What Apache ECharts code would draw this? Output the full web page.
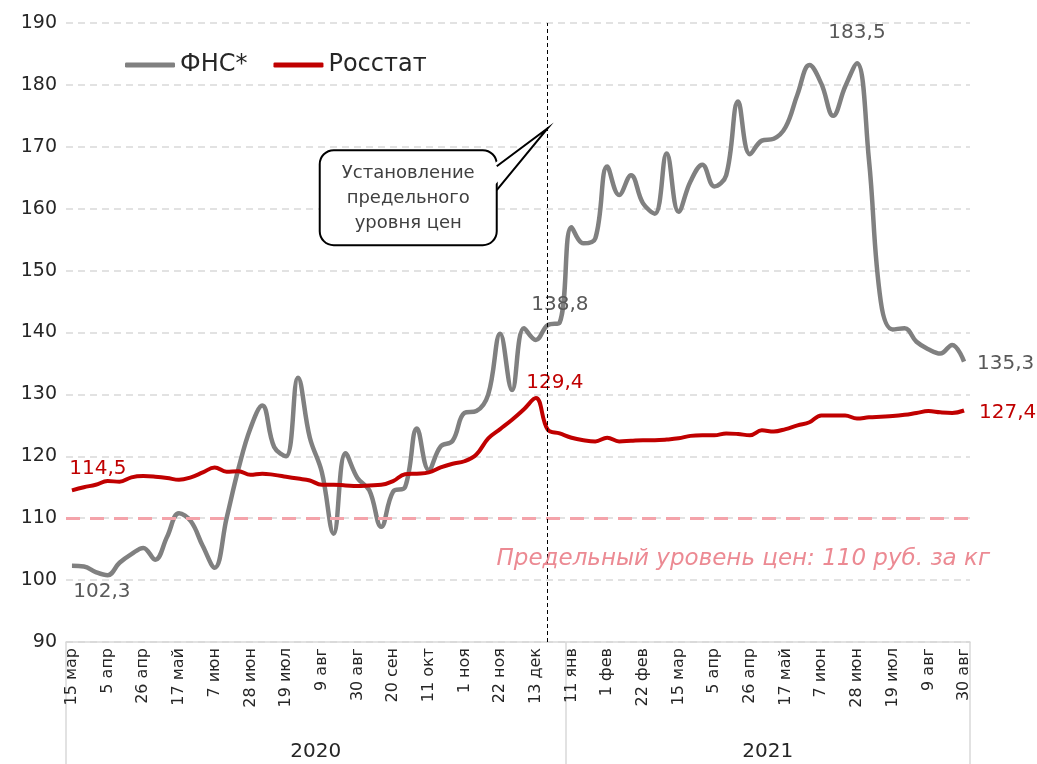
<!DOCTYPE html>
<html lang="ru">
<head>
<meta charset="UTF-8">
<title>Цены на сахар</title>
<script src="https://cdn.jsdelivr.net/npm/echarts@6/dist/echarts.min.js"></script>
<style>
    html, body { margin: 0; padding: 0; background: #fff; }
    #main { width: 1037px; height: 764px; }
</style>
</head>
<body>
<div id="main"></div>
<script>
    // недели (подписи показываются через две)
    var weeks2020 = ['15 мар','22 мар','29 мар','5 апр','12 апр','19 апр','26 апр','3 май','10 май','17 май',
        '24 май','31 май','7 июн','14 июн','21 июн','28 июн','5 июл','12 июл','19 июл','26 июл',
        '2 авг','9 авг','16 авг','23 авг','30 авг','6 сен','13 сен','20 сен','27 сен','4 окт',
        '11 окт','18 окт','25 окт','1 ноя','8 ноя','15 ноя','22 ноя','29 ноя','6 дек','13 дек',
        '20 дек','27 дек'];
    var weeks2021 = ['11 янв','18 янв','25 янв','1 фев','8 фев','15 фев','22 фев','1 мар','8 мар','15 мар',
        '22 мар','29 мар','5 апр','12 апр','19 апр','26 апр','3 май','10 май','17 май','24 май',
        '31 май','7 июн','14 июн','21 июн','28 июн','5 июл','12 июл','19 июл','26 июл','2 авг',
        '9 авг','16 авг','23 авг','30 авг'];
    var years = ['2020', '2021'];

    var fnsPrice = [102.3, 102.2, 101.3, 100.8, 102.8, 104.2, 105.2, 103.3, 107.0, 110.8,
        109.5, 105.5, 102.0, 110.0, 118.0, 124.5, 128.2, 121.5, 120.0, 132.7,
        123.0, 117.5, 107.5, 120.5, 116.5, 114.5, 108.6, 114.3, 115.0, 124.5,
        117.8, 121.6, 122.5, 127.0, 127.3, 130.0, 139.8, 130.7, 140.7, 138.8,
        141.2, 141.6, 157.0, 154.4, 155.2, 166.8, 162.2, 165.4, 160.9, 159.2,
        168.9, 159.5, 164.4, 167.1, 163.6, 165.4, 177.3, 168.8, 171.0, 171.3,
        173.2, 178.5, 183.2, 180.2, 175.0, 179.7, 183.5, 168.0, 145.0, 140.5,
        140.7, 138.5, 137.3, 136.6, 138.0, 135.3];
    var rosstatPrice = [114.5, 115.0, 115.4, 116.0, 115.9, 116.6, 116.8, 116.7, 116.5, 116.2,
        116.6, 117.4, 118.2, 117.5, 117.6, 117.0, 117.2, 117.0, 116.7, 116.4,
        116.1, 115.4, 115.4, 115.3, 115.2, 115.3, 115.4, 116.0, 117.1, 117.2,
        117.4, 118.2, 118.8, 119.2, 120.3, 122.9, 124.4, 125.9, 127.6, 129.4,
        124.3, 123.7, 123.0, 122.6, 122.4, 123.0, 122.4, 122.5, 122.6, 122.6,
        122.7, 122.9, 123.3, 123.4, 123.4, 123.7, 123.6, 123.4, 124.2, 124.0,
        124.4, 125.0, 125.5, 126.6, 126.6, 126.6, 126.1, 126.3, 126.4, 126.5,
        126.7, 127.0, 127.3, 127.1, 127.0, 127.4];

    var capLevel = 110;
    var capWeek = '20 дек';
    var yMin = 90, yMax = 190, yStep = 10;

    var weeks = weeks2020.concat(weeks2021);
    var font = '"DejaVu Sans", sans-serif';

    function fmt(p) { return String(p.value).replace('.', ','); }

    // подписи отдельных точек
    function withLabels(values, marks) {
        return values.map(function (v, i) {
            if (!marks[i]) return v;
            return { value: v, label: Object.assign({ show: true, formatter: fmt, fontSize: 20, fontFamily: font }, marks[i]) };
        });
    }
    var last = weeks.length - 1;
    var fnsMarks = {};
    fnsMarks[0] = { position: 'bottom', offset: [30, 11], color: '#595959' };
    fnsMarks[39] = { position: 'top', offset: [24, -20], color: '#595959' };
    fnsMarks[66] = { position: 'top', offset: [0, -15], color: '#595959' };
    fnsMarks[last] = { position: 'right', offset: [8, 2], color: '#595959' };
    var rosMarks = {};
    rosMarks[0] = { position: 'top', offset: [26, -7], color: '#c00000' };
    rosMarks[39] = { position: 'top', offset: [19, 0], color: '#c00000' };
    rosMarks[last] = { position: 'right', offset: [10, 2], color: '#c00000' };

    var myChart = echarts.init(document.getElementById('main'));

    var option = {
        animation: false,
        textStyle: { fontFamily: font },
        grid: { left: 66, right: 67, top: 23, bottom: 122 },
        legend: {
            data: ['ФНС*', 'Росстат'],
            left: 120, top: 48,
            icon: 'roundRect', itemWidth: 50, itemHeight: 5, itemGap: 26,
            textStyle: { fontSize: 24, color: '#262626', fontFamily: font }
        },
        xAxis: {
            type: 'category',
            data: weeks,
            boundaryGap: true,
            axisLine: { lineStyle: { color: '#d9d9d9', width: 1.5 } },
            axisTick: {
                show: true, length: 122, inside: false,
                interval: function (idx) { return idx === 0 || idx === weeks2020.length; },
                lineStyle: { color: '#d9d9d9', width: 1.5 }
            },
            axisLabel: { interval: 2, rotate: 90, fontSize: 16, color: '#262626', margin: 6, fontFamily: font }
        },
        yAxis: {
            type: 'value', min: yMin, max: yMax, interval: yStep,
            axisLine: { show: false }, axisTick: { show: false },
            axisLabel: { fontSize: 19, color: '#262626', margin: 9, fontFamily: font },
            splitLine: { lineStyle: { color: '#d9d9d9', width: 1.5, type: [7, 5] } }
        },
        series: [
            {
                name: 'ФНС*', type: 'line', smooth: 0.4,
                showSymbol: true, showAllSymbol: true, symbol: 'circle', symbolSize: 0,
                data: withLabels(fnsPrice, fnsMarks),
                itemStyle: { color: '#808080' },
                lineStyle: { color: '#808080', width: 4.5 },
                z: 3
            },
            {
                name: 'Росстат', type: 'line', smooth: 0.4,
                showSymbol: true, showAllSymbol: true, symbol: 'circle', symbolSize: 0,
                data: withLabels(rosstatPrice, rosMarks),
                itemStyle: { color: '#c00000' },
                lineStyle: { color: '#c00000', width: 4 },
                z: 4,
                markLine: {
                    silent: true, symbol: ['none', 'none'],
                    data: [
                        {
                            yAxis: capLevel,
                            lineStyle: { color: '#f4a3aa', width: 3, type: [14, 10] },
                            label: {
                                show: true, position: 'insideEndBottom', distance: [-20, 29],
                                formatter: 'Предельный уровень цен: 110 руб. за кг',
                                fontStyle: 'italic', fontSize: 23, color: '#ec8a93', fontFamily: font
                            }
                        },
                        {
                            xAxis: capWeek,
                            lineStyle: { color: '#000', width: 1, type: [4, 3] },
                            label: { show: false }
                        }
                    ]
                }
            }
        ]
    };
    myChart.setOption(option);

    // подписи годов и выноска
    var x0 = myChart.convertToPixel({ xAxisIndex: 0 }, 0);
    var xN = myChart.convertToPixel({ xAxisIndex: 0 }, last);
    var band = (xN - x0) / last;
    var startX = x0 - band / 2;
    var splitX = startX + weeks2020.length * band;
    var endX = xN + band / 2;
    var tip = myChart.convertToPixel({ gridIndex: 0 }, [capWeek, 173]);

    myChart.setOption({
        graphic: [
            { type: 'text', x: (startX + splitX) / 2, y: 752, style: { text: years[0], font: '20px ' + font, fill: '#262626', textAlign: 'center', textVerticalAlign: 'middle' } },
            { type: 'text', x: (splitX + endX) / 2, y: 752, style: { text: years[1], font: '20px ' + font, fill: '#262626', textAlign: 'center', textVerticalAlign: 'middle' } },
            {
                type: 'group', x: tip[0], y: tip[1], z: 10,
                children: [
                    { type: 'rect', shape: { x: -228, y: 22, width: 177, height: 95, r: 14 }, style: { fill: '#fff', stroke: '#000', lineWidth: 2 } },
                    { type: 'polygon', shape: { points: [[-58, 38], [0, 0], [-58, 62]] }, style: { fill: '#fff' } },
                    { type: 'polyline', shape: { points: [[-51, 38], [0, 0], [-51, 62]] }, style: { stroke: '#000', lineWidth: 2, fill: null } },
                    { type: 'text', x: -139.5, y: 70, style: { text: 'Установление\nпредельного\nуровня цен', font: '18px ' + font, fill: '#404040', textAlign: 'center', textVerticalAlign: 'middle', lineHeight: 25 } }
                ]
            }
        ]
    });
</script>
</body>
</html>
